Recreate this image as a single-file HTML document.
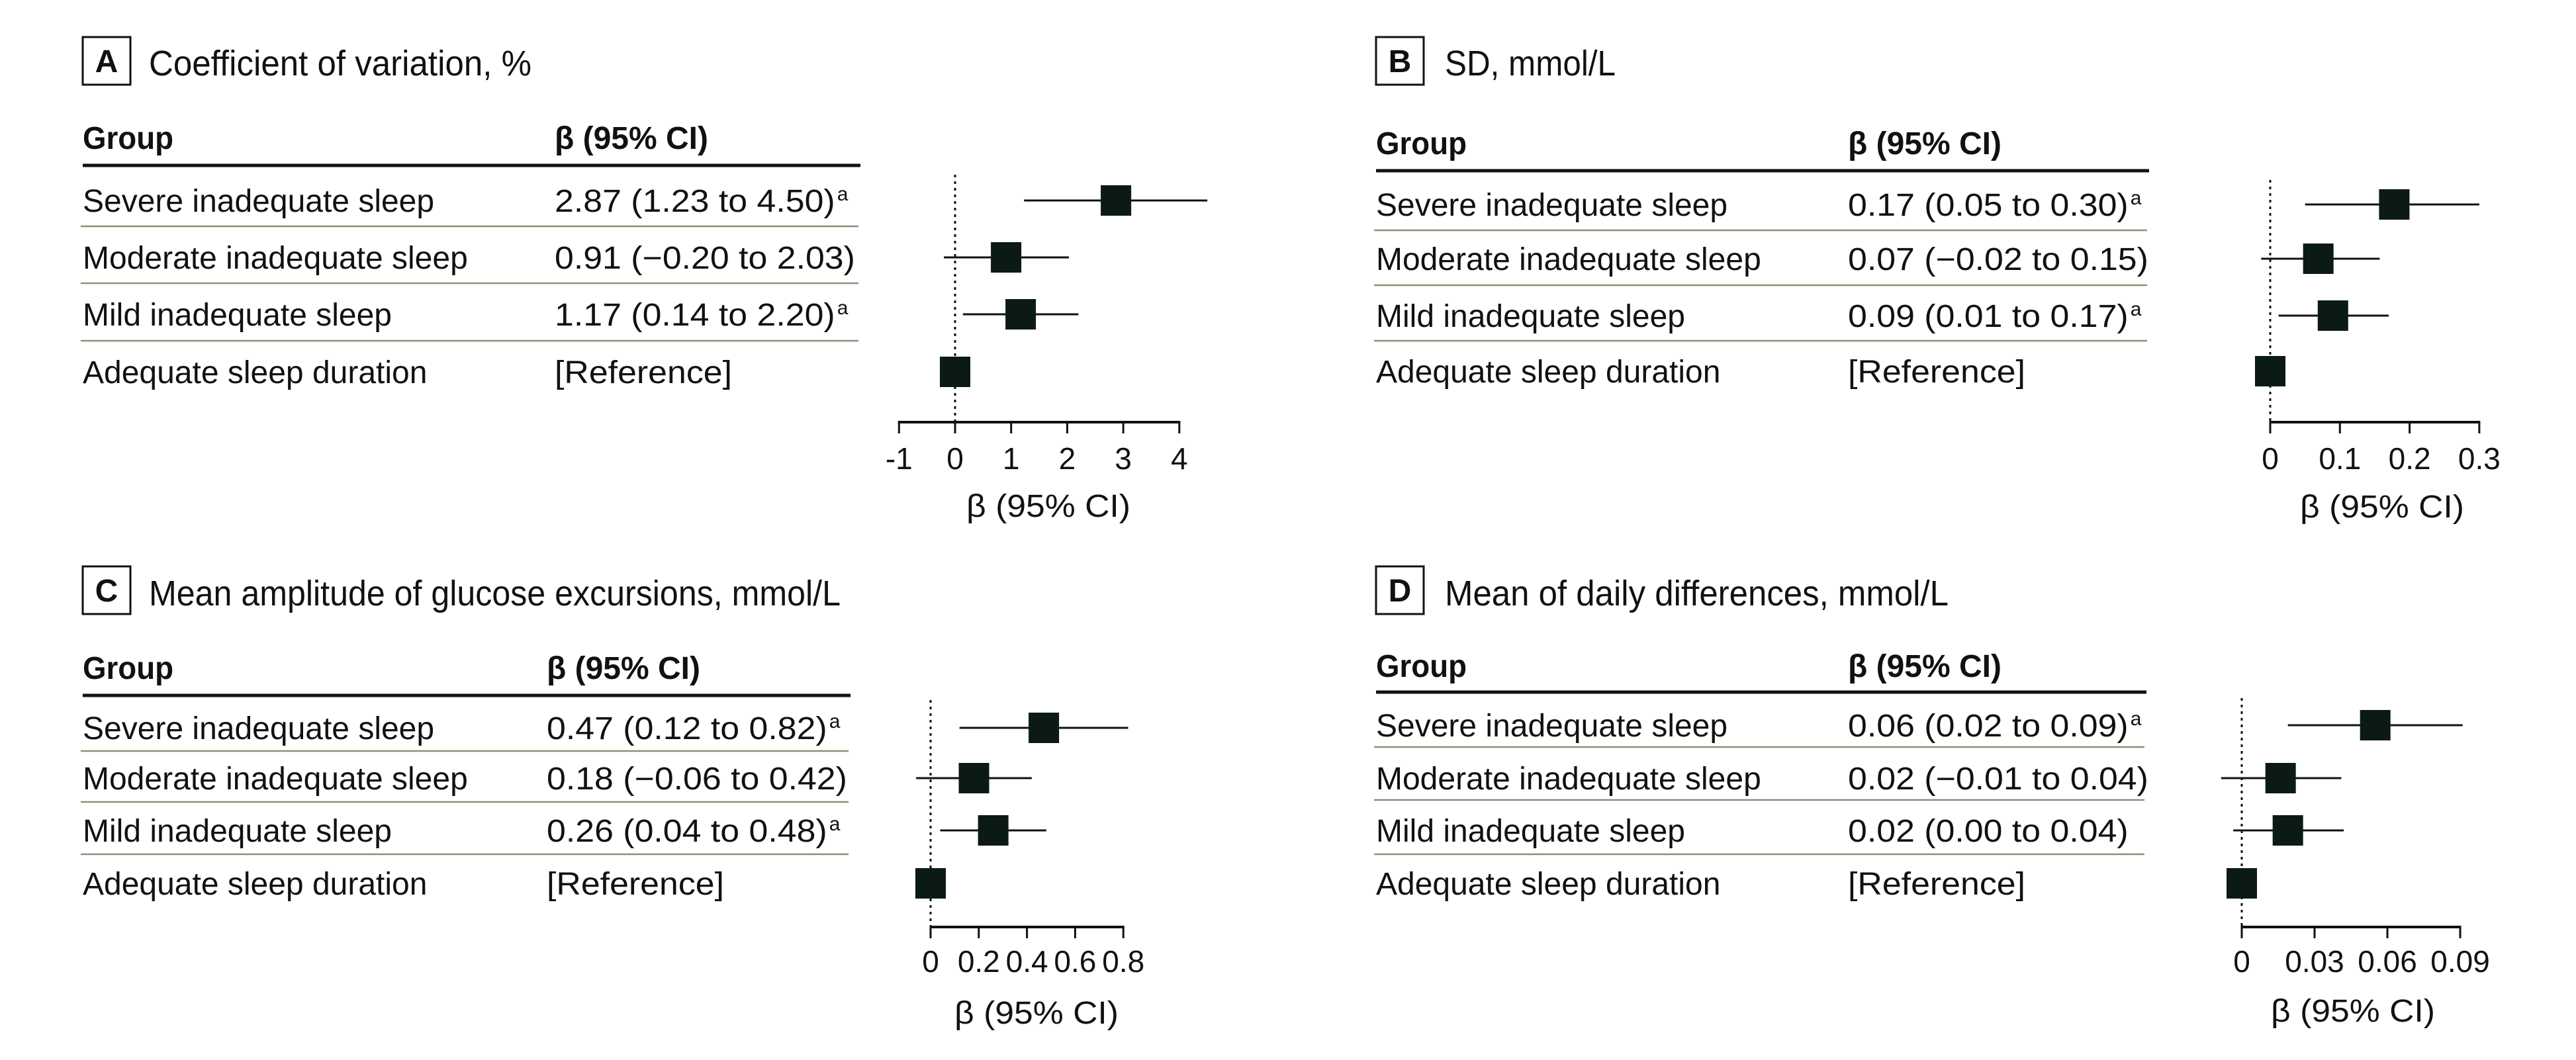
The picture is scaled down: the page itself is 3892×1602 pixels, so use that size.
<!DOCTYPE html>
<html><head><meta charset="utf-8">
<style>
html,body{margin:0;padding:0;background:#fff;}
svg{display:block;}
text{font-family:"Liberation Sans",sans-serif;fill:#111;}
</style></head>
<body>
<svg id="fig" width="3892" height="1602" viewBox="0 0 3892 1602" xmlns="http://www.w3.org/2000/svg"></svg>
<script>
// ---- data ----
const groups = ["Severe inadequate sleep","Moderate inadequate sleep","Mild inadequate sleep","Adequate sleep duration"];
const titlesAll = ["Coefficient of variation, %","SD, mmol/L","Mean amplitude of glucose excursions, mmol/L","Mean of daily differences, mmol/L"];
const lettersAll = ["A","B","C","D"];
const ciTextA = ["2.87 (1.23 to 4.50)","0.91 (−0.20 to 2.03)","1.17 (0.14 to 2.20)","[Reference]"];
const ciTextB = ["0.17 (0.05 to 0.30)","0.07 (−0.02 to 0.15)","0.09 (0.01 to 0.17)","[Reference]"];
const ciTextC = ["0.47 (0.12 to 0.82)","0.18 (−0.06 to 0.42)","0.26 (0.04 to 0.48)","[Reference]"];
const ciTextD = ["0.06 (0.02 to 0.09)","0.02 (−0.01 to 0.04)","0.02 (0.00 to 0.04)","[Reference]"];
const sigA = [true,false,true,false];
const sigB = [true,false,true,false];
const sigC = [true,false,true,false];
const sigD = [true,false,false,false];
const estA = [2.87,0.91,1.17,0];
const loA = [1.23,-0.20,0.14,0];
const hiA = [4.50,2.03,2.20,0];
const estB = [0.178,0.069,0.09,0];
const loB = [0.05,-0.013,0.012,0];
const hiB = [0.30,0.157,0.17,0];
const estC = [0.47,0.18,0.26,0];
const loC = [0.12,-0.06,0.04,0];
const hiC = [0.82,0.42,0.48,0];
const estD = [0.055,0.016,0.019,0];
const loD = [0.019,-0.0085,-0.0035,0];
const hiD = [0.091,0.041,0.042,0];
const ticksA = [-1,0,1,2,3,4];
const tickLabelsA = ["-1","0","1","2","3","4"];
const ticksB = [0,0.1,0.2,0.3];
const tickLabelsB = ["0","0.1","0.2","0.3"];
const ticksC = [0,0.2,0.4,0.6,0.8];
const tickLabelsC = ["0","0.2","0.4","0.6","0.8"];
const ticksD = [0,0.03,0.06,0.09];
const tickLabelsD = ["0","0.03","0.06","0.09"];

// ---- layout (positions/styles) ----
const layouts = [
 {bx:125,by:56,tx:225,ty:95,tw:578,hy:208,thy:250,lx2:1300,rows:[303,389,475,562],seps:[342,428,515],vx:838,zero:1443,pxu:84.7,axY:638,dotTop:264,lblY:693,atx:1584,aty:764},
 {bx:2079,by:56,tx:2183,ty:95,tw:258,hy:216,thy:258,lx2:3247,rows:[309,391,477,561],seps:[348,431,515],vx:2792,zero:3430,pxu:1053,axY:638,dotTop:272,lblY:693,atx:3599,aty:765},
 {bx:125,by:856,tx:225,ty:896,tw:1045,hy:1009,thy:1051,lx2:1285,rows:[1100,1176,1255,1335],seps:[1135,1212,1291],vx:826,zero:1406,pxu:364,axY:1401,dotTop:1058,lblY:1453,atx:1566,aty:1530},
 {bx:2079,by:856,tx:2183,ty:896,tw:761,hy:1006,thy:1046,lx2:3243,rows:[1096,1176,1255,1335],seps:[1129,1209,1291],vx:2792,zero:3387,pxu:3667,axY:1401,dotTop:1055,lblY:1453,atx:3555,aty:1527}
];
const panelData = [
 {ci:ciTextA,sig:sigA,est:estA,lo:loA,hi:hiA,ticks:ticksA,tl:tickLabelsA},
 {ci:ciTextB,sig:sigB,est:estB,lo:loB,hi:hiB,ticks:ticksB,tl:tickLabelsB},
 {ci:ciTextC,sig:sigC,est:estC,lo:loC,hi:hiC,ticks:ticksC,tl:tickLabelsC},
 {ci:ciTextD,sig:sigD,est:estD,lo:loD,hi:hiD,ticks:ticksD,tl:tickLabelsD}
];
const NS="http://www.w3.org/2000/svg";
const svg=document.getElementById('fig');
function mk(tag,attrs,parent){const e=document.createElementNS(NS,tag);for(const k in attrs)e.setAttribute(k,attrs[k]);(parent||svg).appendChild(e);return e;}
function stretch(el,f){try{const w=el.getComputedTextLength();if(w>0){el.setAttribute('textLength',(w*f).toFixed(1));el.setAttribute('lengthAdjust','spacingAndGlyphs');}}catch(e){}}

panelData.forEach((d,p)=>{
  const L=layouts[p];
  const g=mk('g',{});
  
  
  const xs=v=>L.zero+v*L.pxu;
  const box=mk('rect',{x:L.bx,y:L.by,width:72,height:72,fill:'none',stroke:'#111','stroke-width':3},g);
  
  
  const lt=mk('text',{x:L.bx+36,y:L.by+53,'font-size':48,'font-weight':'bold','text-anchor':'middle'},g);
  lt.textContent=lettersAll[p];
  
  
  const tt=mk('text',{x:L.tx,y:L.ty+19,'font-size':54,textLength:L.tw,lengthAdjust:'spacingAndGlyphs'},g);
  tt.textContent=titlesAll[p];
  
  
  const h1=mk('text',{x:L.bx,y:L.hy+17,'font-size':48,'font-weight':'bold',textLength:137,lengthAdjust:'spacingAndGlyphs'},g);
  h1.textContent='Group';
  
  
  const h2=mk('text',{x:L.vx,y:L.hy+17,'font-size':48,'font-weight':'bold',textLength:232,lengthAdjust:'spacingAndGlyphs'},g);
  h2.textContent='β (95% CI)';
  
  
  const th=mk('line',{x1:L.bx,x2:L.lx2,y1:L.thy,y2:L.thy,stroke:'#111','stroke-width':5},g);
  
  
  L.seps.forEach(y=>{
    const s=mk('line',{x1:L.bx-3,x2:L.lx2-3,y1:y,y2:y,stroke:'#8c9079','stroke-width':2.5},g);
    
    
  });
  const zl=mk('line',{x1:xs(0),x2:xs(0),y1:L.dotTop,y2:L.axY,stroke:'#111','stroke-width':3,'stroke-dasharray':'4 6'},g);
  
  
  groups.forEach((name,i)=>{
    const y=L.rows[i];
    const gt=mk('text',{x:L.bx,y:y+17,'font-size':48},g);
    gt.textContent=name;
    
    
    const vt=mk('text',{x:L.vx,y:y+17,'font-size':48},g);
    vt.textContent=d.ci[i];
    
    
    stretch(vt,1.08);
    if(d.sig[i]){
      const st=mk('text',{x:(L.vx+parseFloat(vt.getAttribute('textLength')||0)+3),y:y,'font-size':30},g);
      st.textContent='a';
      
      
    }
    if(d.hi[i]!==d.lo[i]){
      const ci=mk('line',{x1:xs(d.lo[i]),x2:xs(d.hi[i]),y1:y,y2:y,stroke:'#111','stroke-width':3},g);
      
      
    }
    const sq=mk('rect',{x:xs(d.est[i])-23,y:y-23,width:46,height:46,fill:'#0b1a17'},g);
    
    
  });
  const t0=d.ticks[0],t1=d.ticks[d.ticks.length-1];
  const ax=mk('line',{x1:xs(t0)-1.5,x2:xs(t1)+1.5,y1:L.axY,y2:L.axY,stroke:'#111','stroke-width':4},g);
  
  
  d.ticks.forEach((t,k)=>{
    const tk=mk('line',{x1:xs(t),x2:xs(t),y1:L.axY,y2:L.axY+17,stroke:'#111','stroke-width':3},g);
    
    
    const tl=mk('text',{x:xs(t),y:L.lblY+16,'font-size':46,'text-anchor':'middle'},g);
    tl.textContent=d.tl[k];
    
    
  });
  const at=mk('text',{x:L.atx,y:L.aty+17,'font-size':48,'text-anchor':'middle',textLength:248,lengthAdjust:'spacingAndGlyphs'},g);
  at.textContent='β (95% CI)';
  
  
});
</script>
</body></html>
